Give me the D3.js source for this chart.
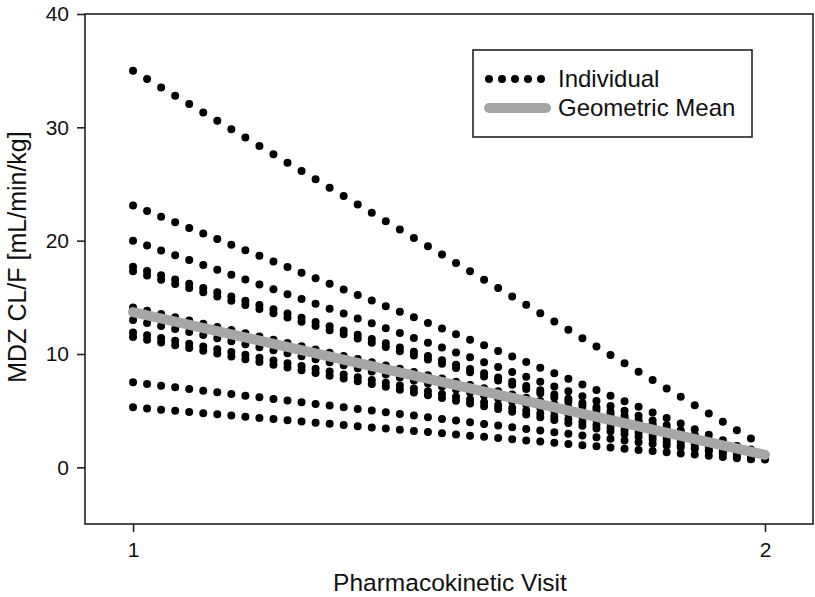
<!DOCTYPE html>
<html>
<head>
<meta charset="utf-8" />
<title>MDZ CL/F by visit</title>
<style>
html, body {
	margin:0;
	padding:0;
	background:#ffffff;
}
svg {
	font-family: 'Liberation Sans', Arial, sans-serif;
}
</style>
</head>
<body>

<script src="https://cdn.jsdelivr.net/npm/d3@7"></script>

<script>

//=======================================
// data
//=======================================

let visits = [1, 2];

// one entry per subject : [visit 1, visit 2]
let individual = [
	[35.0, 1.8],
	[23.1, 0.9],
	[20.0, 0.7],
	[17.7, 0.8],
	[17.3, 0.6],
	[14.1, 1.3],
	[13.0, 1.0],
	[11.9, 0.8],
	[11.5, 0.5],
	[7.5, 0.9],
	[5.3, 0.6]
];

let geoMean = [13.7, 1.1];

let yTicks = [0, 10, 20, 30, 40];
let xTicks = [1, 2];

let legendLabels = ['Individual', 'Geometric Mean'];


//=======================================
// chart
//=======================================

let width = 815,
		height = 597,
		margin = {top:14, left:85, right:2, bottom:73},

		x = d3.scaleLinear().domain([0.924, 2.076]).range([margin.left, width-margin.right]),
		y = d3.scaleLinear().domain([-5, 40]).range([height-margin.bottom, margin.top]),

		line = d3.line()
			.x((d,i)=>x(visits[i]))
			.y(d=>y(d));

let svg = d3.select('body')
	.append('svg')
		.attr('width', width)
		.attr('height', height)
		.attr('viewBox', [0,0,width,height].join(' '));


//=====================
// individual lines (dotted)
//=====================
svg.append('g').attr('class','individual')
	.selectAll('path').data(individual)
		.enter()
			.append('path')
				.attr('d', d=>line(d))
				.attr('fill','none')
				.attr('stroke','#000')
				.attr('stroke-width',8)
				.attr('stroke-linecap','round')
				.each(function(){
					// same horizontal spacing on every line
					let len = this.getTotalLength();
					d3.select(this).attr('stroke-dasharray', '0 '+(len/45));
				});


//=====================
// geometric mean
//=====================
svg.append('g').attr('class','geomean')
	.append('path')
		.attr('d', line(geoMean))
		.attr('fill','none')
		.attr('stroke','#a6a6a6')
		.attr('stroke-width',10)
		.attr('stroke-linecap','round');


//=====================
// frame + axes
//=====================
svg.append('rect')
	.attr('x', x.range()[0])
	.attr('y', y.range()[1])
	.attr('width', x.range()[1]-x.range()[0])
	.attr('height', y.range()[0]-y.range()[1])
	.attr('fill','none')
	.attr('stroke','#222')
	.attr('stroke-width',1.6);

svg.append('g')
	.attr('class','y-axis')
	.attr('transform','translate('+[x.range()[0],0]+')')
	.call(d3.axisLeft(y).tickValues(yTicks).tickSize(8).tickPadding(8))
	.call(sel=>{
		sel.select('.domain').remove();
		sel.selectAll('line').attr('stroke','#222').attr('stroke-width',1.6);
		sel.selectAll('text').attr('font-size',21).attr('fill','#111');
	});

svg.append('g')
	.attr('class','x-axis')
	.attr('transform','translate('+[0,y.range()[0]]+')')
	.call(d3.axisBottom(x).tickValues(xTicks).tickFormat(d3.format('d')).tickSize(8).tickPadding(10))
	.call(sel=>{
		sel.select('.domain').remove();
		sel.selectAll('line').attr('stroke','#222').attr('stroke-width',1.6);
		sel.selectAll('text').attr('font-size',21).attr('fill','#111');
	});


//=====================
// axis titles
//=====================
svg.append('text')
	.attr('x', 450)
	.attr('y', 591)
	.attr('text-anchor','middle')
	.attr('font-size',24.5)
	.attr('fill','#111')
	.text('Pharmacokinetic Visit');

svg.append('text')
	.attr('transform','translate('+[26, 257]+') rotate(-90)')
	.attr('text-anchor','middle')
	.attr('font-size',25)
	.attr('fill','#111')
	.text('MDZ CL/F [mL/min/kg]');


//=====================
// legend
//=====================
svg.append('g').attr('class','legend')
	.attr('transform','translate('+[473,50]+')')
	.call(sel=>{

		sel.append('rect')
			.attr('width',279)
			.attr('height',87)
			.attr('fill','#fff')
			.attr('stroke','#222')
			.attr('stroke-width',1.6);

		let items = sel.selectAll('g').data(legendLabels)
			.enter()
				.append('g')
					.attr('transform',(d,i)=>'translate('+[16, 29+i*29]+')');

		items.append('path')
			.attr('d', d3.line()([[0,0],[57,0]]))
			.attr('fill','none')
			.attr('stroke',(d,i)=>i ? '#a6a6a6' : '#000')
			.attr('stroke-width',(d,i)=>i ? 10 : 8)
			.attr('stroke-linecap','round')
			.attr('stroke-dasharray',(d,i)=>i ? null : '0 13');

		items.append('text')
			.attr('x',69)
			.attr('dy','0.35em')
			.attr('font-size',24)
			.attr('fill','#111')
			.text(d=>d);

	});

</script>

</body>
</html>
